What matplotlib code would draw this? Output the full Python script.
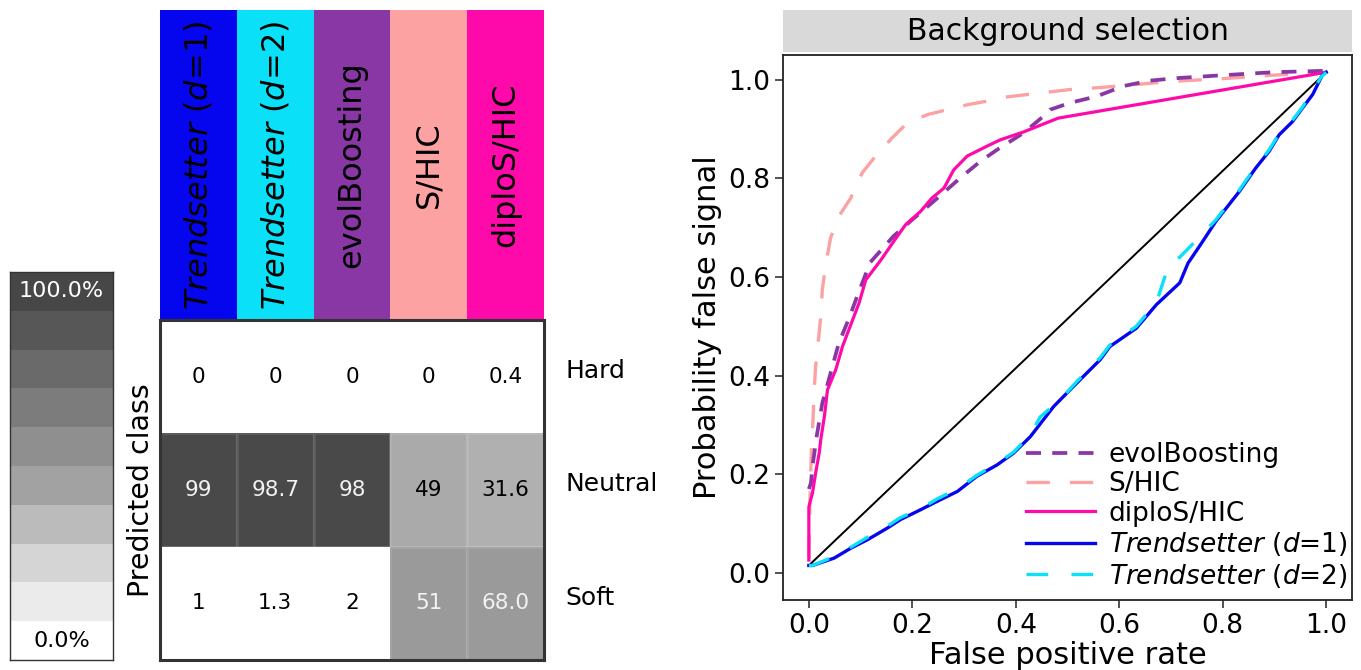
import numpy as np
import matplotlib
matplotlib.use("Agg")
import matplotlib.pyplot as plt
from matplotlib.colors import ListedColormap, BoundaryNorm

# ---- data ----
methods = [r"$\mathit{Trendsetter}$ ($\mathit{d}$=1)",
           r"$\mathit{Trendsetter}$ ($\mathit{d}$=2)",
           "evolBoosting", "S/HIC", "diploS/HIC"]
method_colors = ["#0606ee", "#0ae0f8", "#8a37a6", "#fca2a2", "#fe0aaa"]

classes = ["Hard", "Neutral", "Soft"]
hard = [0, 0, 0, 0, 0.4]
neutral = [99, 98.7, 98, 49, 31.6]
soft = [1, 1.3, 2, 51, 68.0]
cell_text = [["0", "0", "0", "0", "0.4"],
             ["99", "98.7", "98", "49", "31.6"],
             ["1", "1.3", "2", "51", "68.0"]]

# colour key: 10 steps, 100% at top
key_colors = ["#474747", "#575757", "#6a6a6a", "#7c7c7c", "#8f8f8f",
              "#a2a2a2", "#bbbbbb", "#d5d5d5", "#ebebeb", "#ffffff"]

# cell shading
cell_bounds = [0, 20, 40, 50, 90, 100.1]
cell_colors = ["#ffffff", "#b0b0b0", "#aaaaaa", "#9a9a9a", "#494949"]

# ROC-like curves
shic_x = [0.0, 0.001, 0.003, 0.005, 0.008, 0.010, 0.013, 0.018, 0.023, 0.026, 0.033,
          0.042, 0.058, 0.081, 0.103, 0.129, 0.161, 0.190, 0.229, 0.267, 0.306, 0.347,
          0.383, 0.505, 0.563, 0.640, 0.710, 0.800, 0.896, 1.0]
shic_y = [0.03, 0.10, 0.18, 0.249, 0.310, 0.364, 0.418, 0.466, 0.520, 0.574, 0.628,
          0.679, 0.723, 0.760, 0.811, 0.845, 0.882, 0.912, 0.929, 0.939, 0.949, 0.957,
          0.965, 0.980, 0.984, 0.991, 0.997, 1.002, 1.009, 1.015]

evol_x = [0.0, 0.004, 0.007, 0.015, 0.026, 0.042, 0.058, 0.078, 0.097, 0.119, 0.164,
          0.203, 0.241, 0.293, 0.331, 0.364, 0.415, 0.457, 0.466, 0.505, 0.556, 0.608,
          0.659, 0.710, 0.80, 0.896, 1.0]
evol_y = [0.17, 0.182, 0.216, 0.276, 0.344, 0.405, 0.466, 0.517, 0.571, 0.630, 0.683,
          0.719, 0.753, 0.801, 0.834, 0.858, 0.892, 0.929, 0.939, 0.953, 0.966, 0.987,
          0.998, 1.003, 1.009, 1.015, 1.018]

diplo_x = [0.0, 0.0, 0.0, 0.007, 0.013, 0.020, 0.023, 0.030, 0.036, 0.052, 0.065,
           0.081, 0.097, 0.110, 0.139, 0.164, 0.187, 0.216, 0.238, 0.261, 0.280,
           0.306, 0.344, 0.370, 0.415, 0.482, 1.0]
diplo_y = [0.026, 0.080, 0.134, 0.162, 0.202, 0.243, 0.270, 0.317, 0.371, 0.412, 0.459,
           0.503, 0.547, 0.594, 0.634, 0.672, 0.706, 0.733, 0.760, 0.780, 0.817,
           0.845, 0.865, 0.878, 0.894, 0.922, 1.015]

ts1_x = [0.0, 0.007, 0.049, 0.081, 0.113, 0.152, 0.177, 0.216, 0.248, 0.287, 0.325,
         0.364, 0.396, 0.428, 0.473, 0.518, 0.563, 0.582, 0.633, 0.672, 0.717, 0.733,
         0.755, 0.787, 0.832, 0.864, 0.890, 0.909, 0.935, 0.954, 0.974, 0.993, 1.0]
ts1_y = [0.015, 0.015, 0.030, 0.050, 0.067, 0.091, 0.108, 0.128, 0.145, 0.165, 0.196,
         0.219, 0.243, 0.276, 0.337, 0.385, 0.432, 0.459, 0.496, 0.544, 0.588, 0.628,
         0.662, 0.713, 0.773, 0.821, 0.855, 0.888, 0.915, 0.942, 0.970, 1.010, 1.015]

ts2_x = [0.0, 0.007, 0.049, 0.081, 0.113, 0.152, 0.177, 0.216, 0.248, 0.287, 0.325,
         0.364, 0.396, 0.428, 0.447, 0.486, 0.518, 0.563, 0.582, 0.633, 0.672, 0.697,
         0.717, 0.745, 0.787, 0.832, 0.864, 0.890, 0.909, 0.935, 0.954, 0.970, 0.990, 1.0]
ts2_y = [0.015, 0.015, 0.033, 0.052, 0.072, 0.095, 0.112, 0.130, 0.150, 0.170, 0.198,
         0.222, 0.245, 0.280, 0.316, 0.351, 0.388, 0.436, 0.462, 0.500, 0.548, 0.629,
         0.640, 0.670, 0.716, 0.776, 0.824, 0.858, 0.890, 0.918, 0.944, 0.970, 1.005, 1.015]

diag_x = [0.0, 1.0]
diag_y = [0.015, 1.015]

W, H = 1361, 670


def box(l, t, r, b):
    # pixel box -> figure fraction
    return [l / W, 1 - b / H, (r - l) / W, (b - t) / H]


fig = plt.figure(figsize=(W / 100, H / 100), dpi=100)

# ---- colour key ----
axk = fig.add_axes(box(10, 272, 113, 660))
axk.imshow(np.arange(len(key_colors))[:, None], cmap=ListedColormap(key_colors),
           aspect="auto", extent=(0, 1, len(key_colors), 0))
axk.text(0.5, 0.5, "100.0%", color="white", ha="center", va="center", fontsize=16)
axk.text(0.5, len(key_colors) - 0.5, "0.0%", color="black", ha="center", va="center",
         fontsize=16)
axk.set_xticks([])
axk.set_yticks([])
for s in axk.spines.values():
    s.set_color("#333333")
    s.set_linewidth(1.0)

# ---- method header ----
axh = fig.add_axes(box(160, 10, 544, 320))
axh.bar(np.arange(len(methods)), 1, width=1, color=method_colors)
for i, m in enumerate(methods):
    axh.text(i, 0.5, m, rotation=90, ha="center", va="center", fontsize=23)
axh.set_xlim(-0.5, len(methods) - 0.5)
axh.set_ylim(0, 1)
axh.axis("off")

# ---- heatmap ----
axm = fig.add_axes(box(160, 320, 544, 660))
mat = np.array([hard, neutral, soft])
axm.pcolormesh(mat, cmap=ListedColormap(cell_colors),
               norm=BoundaryNorm(cell_bounds, len(cell_colors)),
               edgecolors=(1, 1, 1, 0.1), linewidth=0.8)
axm.set_xlim(0, mat.shape[1])
axm.set_ylim(mat.shape[0], 0)
for r in range(mat.shape[0]):
    for c in range(mat.shape[1]):
        tc = "#f2f2f2" if mat[r, c] > 50 else "black"
        axm.text(c + 0.5, r + 0.5, cell_text[r][c], ha="center", va="center",
                 fontsize=15.5, color=tc)
for r, lab in enumerate(classes):
    axm.text(5.28, r + 0.45, lab, ha="left", va="center", fontsize=18,
             clip_on=False)
axm.set_xticks([])
axm.set_yticks([])
for s in axm.spines.values():
    s.set_color("#333333")
    s.set_linewidth(2.2)
fig.text(141 / W, 1 - 490 / H, "Predicted class", rotation=90, ha="center",
         va="center", fontsize=20.5)

# ---- ROC panel ----
ax = fig.add_axes(box(783, 55, 1352, 600))
ax.plot(diag_x, diag_y, color="black", lw=1.4, zorder=1)
ax.plot(shic_x, shic_y, color=method_colors[3], lw=2.4, ls=(0, (7, 6)),
        label="S/HIC", zorder=2)
ax.plot(evol_x, evol_y, color=method_colors[2], lw=2.7, ls=(0, (4, 3)),
        label="evolBoosting", zorder=3)
ax.plot(diplo_x, diplo_y, color=method_colors[4], lw=2.3, label="diploS/HIC", zorder=4)
ax.plot(ts1_x, ts1_y, color=method_colors[0], lw=2.4, label=methods[0], zorder=5)
ax.plot(ts2_x, ts2_y, color=method_colors[1], lw=2.4, ls=(0, (6.5, 7)),
        label=methods[1], zorder=6)
ax.set_xlim(-0.05, 1.05)
ax.set_ylim(-0.055, 1.05)
ax.set_xticks([0.0, 0.2, 0.4, 0.6, 0.8, 1.0])
ax.set_yticks([0.0, 0.2, 0.4, 0.6, 0.8, 1.0])
ax.tick_params(labelsize=19, length=6, width=1.2, color="#333333")
ax.set_xlabel("False positive rate", fontsize=22, labelpad=1)
ax.set_ylabel("Probability false signal", fontsize=22, labelpad=4)
for s in ax.spines.values():
    s.set_color("#222222")
    s.set_linewidth(1.3)

h, l = ax.get_legend_handles_labels()
order = [l.index("evolBoosting"), l.index("S/HIC"), l.index("diploS/HIC"),
         l.index(methods[0]), l.index(methods[1])]
ax.legend([h[i] for i in order], [l[i] for i in order], loc="lower right",
          frameon=False, fontsize=19, handlelength=2.65, handletextpad=0.5,
          labelspacing=0.13, borderaxespad=0.1, bbox_to_anchor=(1.015, -0.005))

# strip title
axs = fig.add_axes(box(783, 10, 1352, 52))
axs.set_facecolor("#d9d9d9")
axs.set_xticks([])
axs.set_yticks([])
for s in axs.spines.values():
    s.set_visible(False)
axs.text(0.5, 0.5, "Background selection", ha="center", va="center", fontsize=21.5,
         transform=axs.transAxes)

fig.savefig("out.png", dpi=100)
